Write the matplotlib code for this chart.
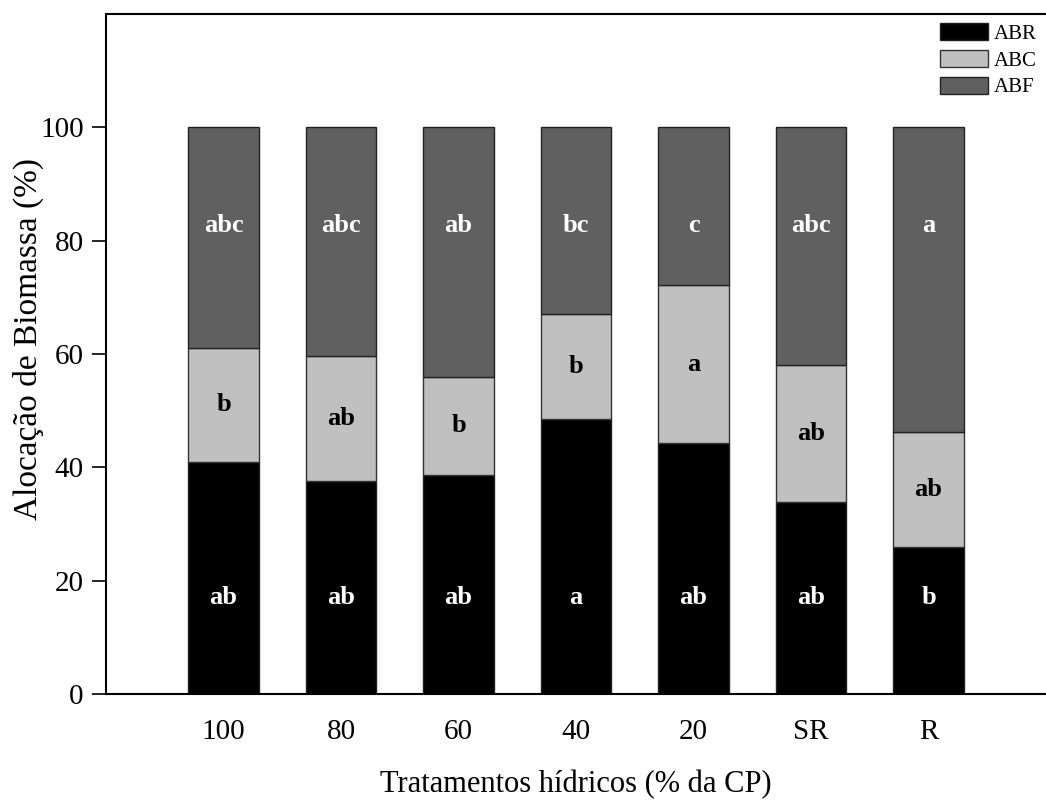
import matplotlib
matplotlib.use("Agg")
import matplotlib.pyplot as plt
import numpy as np

plt.rcParams['font.family'] = ['Liberation Serif', 'DejaVu Serif']

treatments = ['100', '80', '60', '40', '20', 'SR', 'R']
abr = [41.0, 37.5, 38.7, 48.6, 44.3, 33.9, 26.0]
abc_top = [61.0, 59.7, 56.0, 67.1, 72.1, 58.1, 46.3]
abc = [t - r for t, r in zip(abc_top, abr)]
abf = [100 - t for t in abc_top]

abr_letters = ['ab', 'ab', 'ab', 'a', 'ab', 'ab', 'b']
abc_letters = ['b', 'ab', 'b', 'b', 'a', 'ab', 'ab']
abf_letters = ['abc', 'abc', 'ab', 'bc', 'c', 'abc', 'a']

x = np.arange(1, len(treatments) + 1)
w = 0.6

fig = plt.figure(figsize=(10.46, 8.02), dpi=100)
ax = fig.add_axes([106/1046, 1 - 694/802, 940/1046, 680/802])

ax.bar(x, abr, w, color='black', edgecolor='#222222', linewidth=1, label='ABR')
ax.bar(x, abc, w, bottom=abr, color='#c0c0c0', edgecolor='#333333', linewidth=1, label='ABC')
ax.bar(x, abf, w, bottom=abc_top, color='#606060', edgecolor='#222222', linewidth=1, label='ABF')

for i in range(len(x)):
    ax.text(x[i], 17, abr_letters[i], ha='center', va='center', color='white',
            fontsize=19, fontweight='bold')
    ax.text(x[i], (abr[i] + abc_top[i]) / 2, abc_letters[i], ha='center', va='center',
            color='black', fontsize=19, fontweight='bold')
    ax.text(x[i], 82.7, abf_letters[i], ha='center', va='center', color='white',
            fontsize=19, fontweight='bold')

ax.set_xlim(0, 8)
ax.set_ylim(0, 120)
ax.set_yticks([0, 20, 40, 60, 80, 100])
ax.set_xticks(x)
ax.set_xticklabels(treatments)
ax.tick_params(axis='y', direction='out', length=10, width=1.2, labelsize=21, pad=6)
ax.tick_params(axis='x', length=0, labelsize=21, pad=18)
ax.spines['right'].set_visible(False)
for s in ['left', 'top', 'bottom']:
    ax.spines[s].set_linewidth(1.5)

ax.set_ylabel('Alocação de Biomassa (%)', fontsize=24)
ax.yaxis.set_label_coords(-0.066, 0.522)
ax.set_xlabel('Tratamentos hídricos (% da CP)', fontsize=22, labelpad=18)

ax.legend(loc='upper right', bbox_to_anchor=(1.0, 1.0), frameon=False, fontsize=15,
          handlelength=2.3, handleheight=0.85, labelspacing=0.3, handletextpad=0.3,
          borderaxespad=0.05)

plt.savefig('out.png', dpi=100)
